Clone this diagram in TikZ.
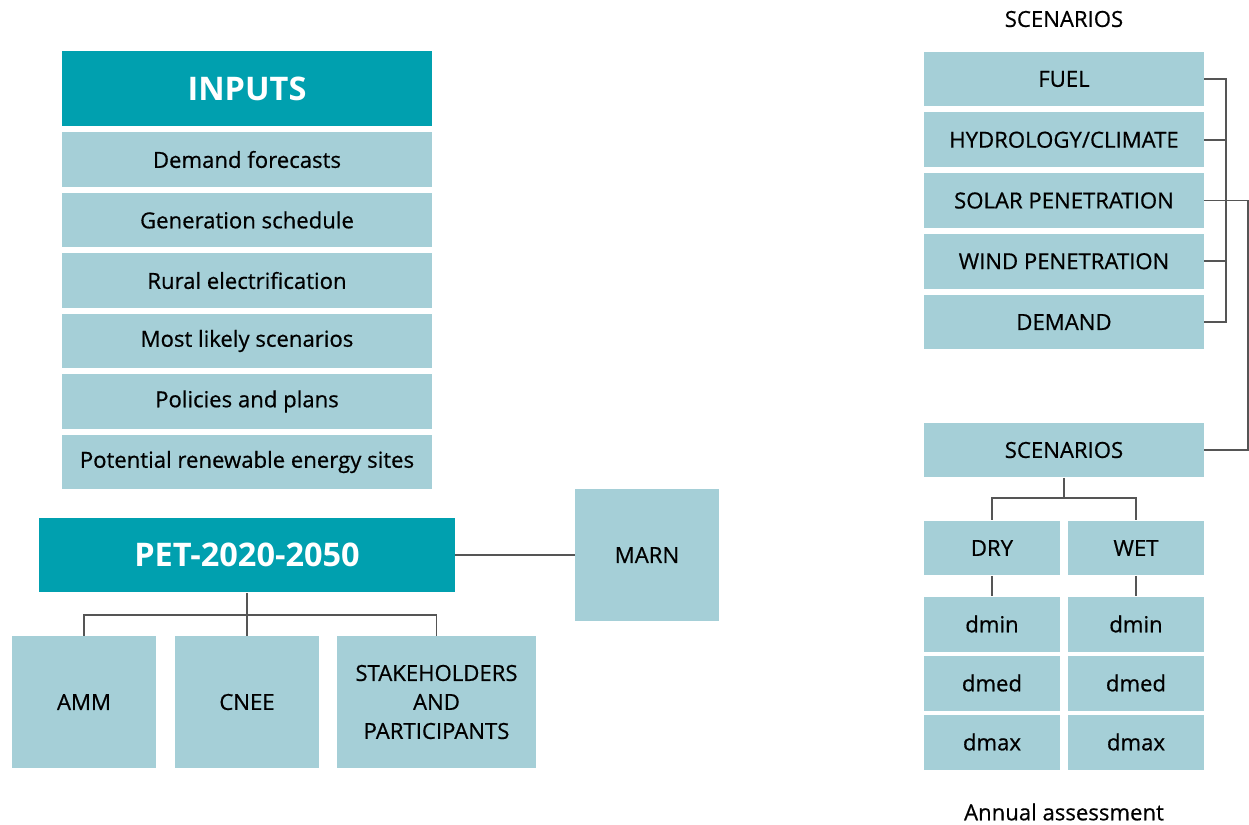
\documentclass[tikz,border=0pt]{standalone}
\usepackage{fontspec}
\setmainfont{Open Sans}
\newfontfamily\cellfont{Open Sans}[FakeBold=0.6]
\usepackage{xcolor}
\usetikzlibrary{positioning}

\definecolor{tealdark}{HTML}{00A0AF}
\definecolor{teallight}{HTML}{A5CFD7}
\definecolor{linkgray}{HTML}{555555}

\tikzset{
  head/.style={fill=tealdark,text=white,font=\fontsize{18.5}{20}\selectfont\bfseries,inner sep=0pt,minimum height=1.5cm},
  cell/.style={fill=teallight,text=black,font=\fontsize{12.6}{16.5}\cellfont,inner sep=0pt,minimum height=1.1cm,align=center},
  plain/.style={font=\fontsize{12.6}{14.5}\cellfont},
  link/.style={draw=linkgray,line width=1.1pt}
}

\begin{document}
\begin{tikzpicture}[x=0.02cm,y=-0.02cm]
	\useasboundingbox (0,0) rectangle (1249,825);
		%Inputs
			\node[head,minimum width=7.4cm] (inputs) at (247,88.5) {INPUTS};
			\foreach \i/\t in {0/Demand forecasts,1/Generation schedule,2/Rural electrification,3/Most likely scenarios,4/Policies and plans,5/Potential renewable energy sites}
			{
				\node[cell,minimum width=7.4cm] (in\i) at (247,159.5+60.5*\i) {\t};
			}
		%Plan
			\node[head,minimum width=8.32cm] (pet) at (247,555) {PET-2020-2050};
			\node[cell,minimum width=2.88cm,minimum height=2.64cm] (marn) at (647,555) {MARN};
			\node[cell,minimum width=2.88cm,minimum height=2.64cm] (amm) at (84,702) {AMM};
			\node[cell,minimum width=2.88cm,minimum height=2.64cm] (cnee) at (247,702) {CNEE};
			\node[cell,minimum width=3.98cm,minimum height=2.64cm] (stake) at (436.5,702) {STAKEHOLDERS\\AND\\PARTICIPANTS};
			\draw[link] (pet.east) -- (marn.west);
			\draw[link] (pet.south) -- ++(0,22) coordinate (fork);
			\draw[link] (fork) -| (amm.north);
			\draw[link] (fork) -| (stake.north);
			\draw[link] (fork) -- (cnee.north);
		%Scenarios
			\node[plain] (title) at (1064,19) {SCENARIOS};
			\foreach \i/\n/\t in {0/fuel/FUEL,1/hydro/{HYDROLOGY/CLIMATE},2/solar/SOLAR PENETRATION,3/wind/WIND PENETRATION,4/demand/DEMAND}
			{
				\node[cell,minimum width=5.6cm] (\n) at (1064,79+60.75*\i) {\t};
			}
			\draw[link] (fuel.east) -- ++(22,0) |- (demand.east);
			\draw[link] (hydro.east) -- ++(22,0);
			\draw[link] (wind.east) -- ++(22,0);
			\node[cell,minimum width=5.6cm] (scen) at (1064,450) {SCENARIOS};
			\draw[link] (solar.east) -- ++(44,0) |- (scen.east);
		%Dry and wet
			\node[cell,minimum width=2.72cm] (dry) at (992,548) {DRY};
			\node[cell,minimum width=2.72cm] (wet) at (1136,548) {WET};
			\draw[link] (scen.south) -- ++(0,20) coordinate (split);
			\draw[link] (split) -| (dry.north);
			\draw[link] (split) -| (wet.north);
			\foreach \c/\x in {dry/992,wet/1136}
			{
				\foreach \j/\t in {0/dmin,1/dmed,2/dmax}
				{
					\node[cell,minimum width=2.72cm] (\c\j) at (\x,624+59*\j) {\t};
				}
				\draw[link] (\c.south) -- (\c0.north);
			}
			\node[plain] (annual) at (1064,812) {Annual assessment};
	\end{tikzpicture}
\end{document}
